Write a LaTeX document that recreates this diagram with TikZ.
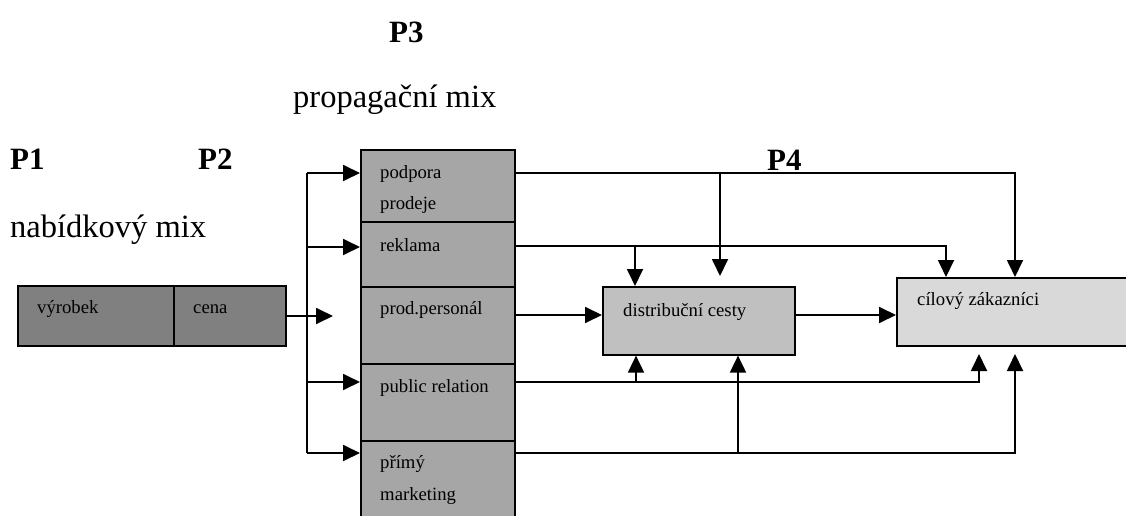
\documentclass[tikz,border=0pt]{standalone}
\usepackage{fontspec}
\setmainfont{Liberation Serif}
\usetikzlibrary{arrows.meta}
\definecolor{gDark}{RGB}{128,128,128}
\definecolor{gMid}{RGB}{166,166,166}
\definecolor{gLight}{RGB}{192,192,192}
\definecolor{gPale}{RGB}{217,217,217}
\begin{document}
\begin{tikzpicture}[x=1pt,y=-1pt,
  box/.style={draw=black,line width=1.6pt,rectangle,inner sep=0pt,anchor=north west},
  small/.style={anchor=base west,inner sep=0pt,font=\fontsize{18.7}{18.7}\selectfont},
  big/.style={anchor=base west,inner sep=0pt,font=\fontsize{32.5}{32.5}\selectfont},
  bigb/.style={anchor=base west,inner sep=0pt,font=\fontsize{31}{31}\selectfont\bfseries},
  conn/.style={line width=1.8pt},
  arr/.style={line width=1.8pt,-{Triangle[length=17pt,width=16pt]}}]
\useasboundingbox (0,0) rectangle (1126,516);
\clip (0,0) rectangle (1126,516);
% headings
\node[bigb] (p3) at (389,43) {P3};
\node[big] (pmix) at (293,108) {propagační mix};
\node[bigb] (p1) at (10,169) {P1};
\node[bigb] (p2) at (198,169) {P2};
\node[bigb] (p4) at (767,170) {P4};
\node[big] (nmix) at (10,237) {nabídkový mix};
% offer mix boxes
\node[box,fill=gDark,minimum width=156,minimum height=60] (vy) at (17,285) {};
\node[box,fill=gDark,minimum width=112,minimum height=60] (ce) at (173,285) {};
\node[small] (tvy) at (37,313) {výrobek};
\node[small] (tce) at (193,313) {cena};
% promotion column
\node[box,fill=gMid,minimum width=154,minimum height=72] (s1) at (360,149) {};
\node[box,fill=gMid,minimum width=154,minimum height=65] (s2) at (360,221) {};
\node[box,fill=gMid,minimum width=154,minimum height=77] (s3) at (360,286) {};
\node[box,fill=gMid,minimum width=154,minimum height=77] (s4) at (360,363) {};
\node[box,fill=gMid,minimum width=154,minimum height=85] (s5) at (360,440) {};
\node[small] (t1a) at (380,178) {podpora};
\node[small] (t1b) at (380,209) {prodeje};
\node[small] (t2) at (380,251) {reklama};
\node[small] (t3) at (380,314) {prod.personál};
\node[small] (t4) at (380,392) {public relation};
\node[small] (t5a) at (380,468) {přímý};
\node[small] (t5b) at (380,500) {marketing};
% distribution and customers
\node[box,fill=gLight,minimum width=192,minimum height=68] (dc) at (602,286) {};
\node[small] (tdc) at (623,316) {distribuční cesty};
\node[box,fill=gPale,minimum width=240,minimum height=68] (cz) at (896,277) {};
\node[small] (tcz) at (917,305) {cílový zákazníci};
% coordinates
\coordinate (a0) at (333,316);
\coordinate (b1) at (307,173);
\coordinate (b2) at (308,247);
\coordinate (b4) at (307,382);
\coordinate (b5) at (307,453);
\coordinate (k1) at (1015,173);
\coordinate (j1) at (720,173);
\coordinate (e1) at (720,276);
\coordinate (k2) at (946,246);
\coordinate (j2) at (635,246);
\coordinate (k4) at (979,382);
\coordinate (e4) at (979,354);
\coordinate (j4) at (636,382);
\coordinate (k5) at (1015,453);
\coordinate (e5) at (1015,354);
\coordinate (j5) at (738,453);
% input arrows
\draw[arr] (ce.east |- a0) -- (a0);
\draw[conn] (b1) -- (b5);
\draw[arr] (b1) -- (b1 -| s1.west);
\draw[arr] (b2) -- (b2 -| s2.west);
\draw[arr] (b4) -- (b4 -| s4.west);
\draw[arr] (b5) -- (b5 -| s5.west);
% outputs
\draw[arr] (b1 -| s1.east) -- (k1) -- (k1 |- cz.north);
\draw[arr] (j1) -- (e1);
\draw[arr] (k2 -| s2.east) -- (k2) -- (k2 |- cz.north);
\draw[arr] (j2) -- (j2 |- dc.north);
\draw[arr] (s3.east |- 0,315) -- (dc.west |- 0,315);
\draw[arr] (dc.east |- 0,315) -- (cz.west |- 0,315);
\draw[arr] (k4 -| s4.east) -- (k4) -- (e4);
\draw[arr] (j4) -- (j4 |- dc.south);
\draw[arr] (k5 -| s5.east) -- (k5) -- (e5);
\draw[arr] (j5) -- (j5 |- dc.south);
\end{tikzpicture}
\end{document}
